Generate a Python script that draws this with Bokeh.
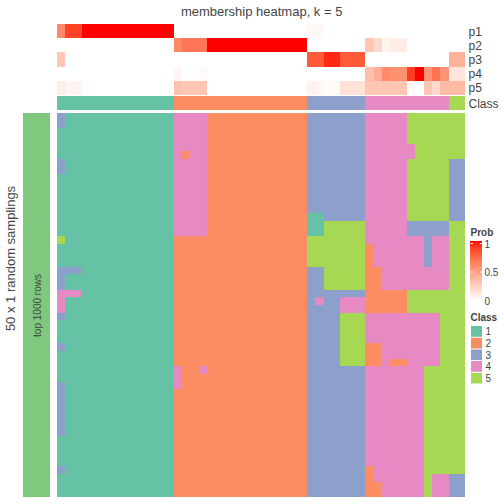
import numpy as np
from bokeh.plotting import figure
from bokeh.models import Range1d, Label, ColumnDataSource
from bokeh.transform import linear_cmap
from bokeh.embed import file_html
from bokeh.resources import INLINE

# ---------------- data ----------------
TITLE = "membership heatmap, k = 5"
ROW_LABELS = ["p1", "p2", "p3", "p4", "p5"]
CLASS_NAMES = ["1", "2", "3", "4", "5"]
CLASS_COLORS = ["#66C2A5", "#FC8D62", "#8DA0CB", "#E78AC3", "#A6D854"]
LEFT_BAR_LABEL = "top 1000 rows"
Y_TITLE = "50 x 1 random samplings"
PROB_TICKS = [0, 0.5, 1]

SAMPLE_CLASS = [1] * 14 + [2] * 16 + [3] * 7 + [4] * 10 + [5] * 2

P1 = [0.6, 0.88, 0.88] + [1.0] * 11 + [0] * 16 + [0.04, 0.04] + [0] * 17
P2 = [0] * 14 + [0.6, 0.68, 0.68, 0.68] + [1.0] * 12 + [0] * 7 + [0.3, 0.2, 0.06, 0.1, 0.1] + [0] * 7
P3 = [0.3] + [0] * 29 + [0.8, 0.8, 0.95, 0.95, 0.8, 0.8, 0.8] + [0] * 10 + [0.4, 0.4]
P4 = [0] * 14 + [0.05, 0, 0, 0.03] + [0] * 12 + [0] * 7 + \
     [0.33, 0.42, 0.6, 0.56, 0.56, 0.9, 1.0, 0.55, 0.7, 0.55] + [0.14, 0.14]
P5 = [0.1, 0.06, 0.06] + [0] * 11 + [0.32, 0.3, 0.3, 0.3] + [0] * 12 + \
     [0.07, 0.05, 0.02, 0.02, 0.15, 0.15, 0.15] + [0.3] * 5 + [0.03, 0, 0.3, 0.2, 0.36] + [0.36, 0.36]
PROBS = [P1, P2, P3, P4, P5]

SAMPLINGS = [
    "31111111111111" "4444222222222222" "3333333" "444445555555",
    "31111111111111" "4444222222222222" "3333333" "444445555555",
    "11111111111111" "4444222222222222" "3333333" "444445555555",
    "11111111111111" "4444222222222222" "3333333" "444445555555",
    "11111111111111" "4444222222222222" "3333333" "444444555555",
    "11111111111111" "4244222222222222" "3333333" "444444555555",
    "31111111111111" "4444222222222222" "3333333" "444445555533",
    "31111111111111" "4444222222222222" "3333333" "444445555533",
    "11111111111111" "4444222222222222" "3333333" "444445555533",
    "11111111111111" "4444222222222222" "3333333" "444445555533",
    "11111111111111" "4444222222222222" "3333333" "444445555533",
    "11111111111111" "4444222222222222" "3333333" "444445555533",
    "11111111111111" "4444222222222222" "3333333" "444445555533",
    "11111111111111" "4444222222222222" "1133333" "444445555533",
    "11111111111111" "4444222222222222" "1155555" "444443333355",
    "11111111111111" "4444222222222222" "1155555" "444443333355",
    "51111111111111" "2222222222222222" "5555555" "444444434455",
    "11111111111111" "2222222222222222" "5555555" "244444434455",
    "11111111111111" "2222222222222222" "5555555" "244444434455",
    "11111111111111" "2222222222222222" "5555555" "244444434455",
    "33311111111111" "2222222222222222" "3355555" "224444444455",
    "31111111111111" "2222222222222222" "3355555" "224444444455",
    "31111111111111" "2222222222222222" "3355555" "224444444455",
    "44411111111111" "2222222222222222" "3333333" "222225555555",
    "41111111111111" "2222222222222222" "3433444" "222225555555",
    "41111111111111" "2222222222222222" "3333444" "222225555555",
    "31111111111111" "2222222222222222" "3333555" "444444444555",
    "11111111111111" "2222222222222222" "3333555" "444444444555",
    "11111111111111" "2222222222222222" "3333555" "444444444555",
    "11111111111111" "2222222222222222" "3333555" "444444444555",
    "31111111111111" "2222222222222222" "3333555" "224444444555",
    "11111111111111" "2222222222222222" "3333555" "224444444555",
    "11111111111111" "2222222222222222" "3333555" "224224444555",
    "11111111111111" "4224222222222222" "3333333" "444444455555",
    "11111111111111" "4222222222222222" "3333333" "444444455555",
    "31111111111111" "4222222222222222" "3333333" "444444455555",
    "31111111111111" "2222222222222222" "3333333" "444444455555",
    "31111111111111" "2222222222222222" "3333333" "444444455555",
    "31111111111111" "2222222222222222" "3333333" "444444455555",
    "31111111111111" "2222222222222222" "3333333" "444444455555",
    "31111111111111" "2222222222222222" "3333333" "444444455555",
    "31111111111111" "2222222222222222" "3333333" "444444455555",
    "11111111111111" "2222222222222222" "3333333" "444444455555",
    "11111111111111" "2222222222222222" "3333333" "444444455555",
    "11111111111111" "2222222222222222" "3333333" "444444455555",
    "11111111111111" "2222222222222222" "3333333" "444444455555",
    "31111111111111" "2222222222222222" "3333333" "244444455555",
    "11111111111111" "2222222222222222" "3333333" "244444454433",
    "11111111111111" "2222222222222222" "3333333" "224444454433",
    "11111111111111" "2222222222222222" "3333333" "224444454433",
]
assert all(len(r) == 49 for r in SAMPLINGS) and len(SAMPLINGS) == 50
assert all(len(p) == 49 for p in PROBS)

# ---------------- layout (page pixels) ----------------
FONT = "Liberation Sans"
NCOL = len(SAMPLE_CLASS)
NROW = len(SAMPLINGS)
X0, X1 = 57.0, 465.3
CW = (X1 - X0) / NCOL
PY0, PY1 = 24.0, 95.0
PH = (PY1 - PY0) / len(PROBS)
CY0, CY1 = 96.0, 110.0
MY0, MY1 = 113.0, 497.0
RH = (MY1 - MY0) / NROW
LBX0, LBX1 = 23.0, 50.0
W = 504
PIX = -0.5   # Bokeh draws with a half-pixel translate; this puts cell edges on whole pixels


def cx(j):
    return float(round(X0 + j * CW)) + PIX


def my(i):
    return float(round(MY0 + i * RH)) + PIX


def py(r):
    return float(round(PY0 + r * PH)) + PIX


def _lab_palette(c0, c1, n=256):
    def to_lin(c):
        c = np.asarray(c, float) / 255.0
        return np.where(c <= 0.04045, c / 12.92, ((c + 0.055) / 1.055) ** 2.4)

    M = np.array([[0.4124, 0.3576, 0.1805], [0.2126, 0.7152, 0.0722], [0.0193, 0.1192, 0.9505]])
    Minv = np.linalg.inv(M)
    wp = M @ np.ones(3)

    def f(t):
        d = 6 / 29
        return np.where(t > d ** 3, np.cbrt(t), t / (3 * d * d) + 4 / 29)

    def finv(t):
        d = 6 / 29
        return np.where(t > d, t ** 3, 3 * d * d * (t - 4 / 29))

    def to_lab(c):
        xyz = M @ to_lin(c) / wp
        fx, fy, fz = f(xyz)
        return np.array([116 * fy - 16, 500 * (fx - fy), 200 * (fy - fz)])

    def to_rgb(lab):
        L, a, b = lab
        fy = (L + 16) / 116
        xyz = np.array([finv(fy + a / 500), finv(fy), finv(fy - b / 200)]) * wp
        lin = np.clip(Minv @ xyz, 0, 1)
        s = np.where(lin <= 0.0031308, lin * 12.92, 1.055 * lin ** (1 / 2.4) - 0.055)
        return "#%02x%02x%02x" % tuple(int(round(v * 255)) for v in np.clip(s, 0, 1))

    l0, l1 = to_lab(c0), to_lab(c1)
    return [to_rgb(l0 + (l1 - l0) * t) for t in np.linspace(0, 1, n)]


PALETTE = _lab_palette((255, 255, 255), (255, 0, 0))

p = figure(width=W, height=W, x_range=Range1d(0, W), y_range=Range1d(W, 0),
           output_backend="svg", toolbar_location=None, min_border=0)
p.axis.visible = False
p.grid.visible = False
p.outline_line_color = None
p.background_fill_color = "white"

# ---- probability heatmap ----
pl, pr, pt, pb, pv = [], [], [], [], []
for r, row in enumerate(PROBS):
    for j, v in enumerate(row):
        pl.append(cx(j)); pr.append(cx(j + 1))
        pt.append(py(r)); pb.append(py(r + 1))
        pv.append(v)
src_p = ColumnDataSource(dict(left=pl, right=pr, top=pt, bottom=pb, prob=pv))
cmap = linear_cmap("prob", PALETTE, 0, 1)
p.quad(left="left", right="right", top="top", bottom="bottom", source=src_p,
       fill_color=cmap, line_color=None)

# ---- class annotation bar (merged runs) ----
cl, cr, ccol = [], [], []
j = 0
while j < NCOL:
    k = j
    while k + 1 < NCOL and SAMPLE_CLASS[k + 1] == SAMPLE_CLASS[j]:
        k += 1
    cl.append(cx(j)); cr.append(cx(k + 1)); ccol.append(CLASS_COLORS[SAMPLE_CLASS[j] - 1])
    j = k + 1
src_c = ColumnDataSource(dict(left=cl, right=cr, top=[CY0 + PIX] * len(cl), bottom=[CY1 + PIX] * len(cl),
                              color=ccol))
p.quad(left="left", right="right", top="top", bottom="bottom", source=src_c,
       fill_color="color", line_color=None)

# ---- main samplings heatmap (greedy rectangles of equal class) ----
grid = np.array([[int(ch) for ch in row] for row in SAMPLINGS])
used = np.zeros_like(grid, dtype=bool)
ml, mr, mt, mb, mc = [], [], [], [], []
for i in range(NROW):
    for j in range(NCOL):
        if used[i, j]:
            continue
        c = grid[i, j]
        k = j
        while k + 1 < NCOL and grid[i, k + 1] == c and not used[i, k + 1]:
            k += 1
        h = i
        while h + 1 < NROW and np.all(grid[h + 1, j:k + 1] == c) and not used[h + 1, j:k + 1].any():
            h += 1
        used[i:h + 1, j:k + 1] = True
        ml.append(cx(j)); mr.append(cx(k + 1))
        mt.append(my(i)); mb.append(my(h + 1))
        mc.append(CLASS_COLORS[c - 1])
src_m = ColumnDataSource(dict(left=ml, right=mr, top=mt, bottom=mb, color=mc))
p.quad(left="left", right="right", top="top", bottom="bottom", source=src_m,
       fill_color="color", line_color=None)

# ---- left annotation bar ----
p.quad(left=[LBX0 + PIX], right=[LBX1 + PIX], top=[MY0 + PIX], bottom=[MY1 + PIX],
       fill_color="#7FC97F", line_color=None)
p.add_layout(Label(x=(LBX0 + LBX1) / 2, y=(MY0 + MY1) / 2, text=LEFT_BAR_LABEL, angle=np.pi / 2,
                   text_align="center", text_baseline="middle", text_font=FONT, text_font_size="10px"))
p.add_layout(Label(x=10, y=258, text=Y_TITLE, angle=np.pi / 2, text_align="center",
                   text_baseline="middle", text_font=FONT, text_font_size="13px"))

# ---- title ----
p.add_layout(Label(x=(X0 + X1) / 2, y=11, text=TITLE, text_align="center", text_baseline="middle",
                   text_font=FONT, text_font_size="13px"))

# ---- row labels ----
for r, lab in enumerate(ROW_LABELS):
    p.add_layout(Label(x=468, y=PY0 + (r + 0.5) * PH, text=lab, text_align="left", text_baseline="middle",
                       text_font=FONT, text_font_size="12px"))
p.add_layout(Label(x=468, y=(CY0 + CY1) / 2, text="Class", text_align="left", text_baseline="middle",
                   text_font=FONT, text_font_size="12px"))

# ---- Prob legend ----
GX0, GX1, GY_TOP, GY_BOT = 470.0, 482.0, 243.0, 300.0
p.add_layout(Label(x=470, y=232, text="Prob", text_align="left", text_baseline="middle",
                   text_font=FONT, text_font_size="10px", text_font_style="bold"))
gtop, gbot = GY_TOP - 2, GY_BOT + 1
ng = int(gbot - gtop)
gv = np.linspace(1, 0, ng)
gy = np.arange(ng + 1) + gtop + PIX
src_g = ColumnDataSource(dict(left=[GX0 + PIX] * ng, right=[GX1 + PIX] * ng, top=list(gy[:-1]),
                              bottom=list(gy[1:]), prob=list(gv)))
p.quad(left="left", right="right", top="top", bottom="bottom", source=src_g,
       fill_color=cmap, line_color=None)
for t in PROB_TICKS:
    ty = GY_BOT - t * (GY_BOT - GY_TOP)
    p.segment(x0=[GX0, GX1 - 2.5], x1=[GX0 + 2.5, GX1], y0=[ty, ty], y1=[ty, ty],
              line_color="white", line_width=1)
    p.add_layout(Label(x=484, y=ty, text=("%g" % t), text_align="left", text_baseline="middle",
                       text_font=FONT, text_font_size="10px"))

# ---- Class legend ----
p.add_layout(Label(x=470, y=317, text="Class", text_align="left", text_baseline="middle",
                   text_font=FONT, text_font_size="10px", text_font_style="bold"))
SW_Y0, SW_PITCH = 325.5, 11.7
for k, (nm, col) in enumerate(zip(CLASS_NAMES, CLASS_COLORS)):
    top = SW_Y0 + k * SW_PITCH
    p.quad(left=[470.5], right=[481.5], top=[top], bottom=[top + SW_PITCH - 1], fill_color=col, line_color=None)
    p.add_layout(Label(x=485, y=top + (SW_PITCH - 1) / 2, text=nm, text_align="left", text_baseline="middle",
                       text_font=FONT, text_font_size="10px"))

open("out.html", "w").write(file_html(p, INLINE))
